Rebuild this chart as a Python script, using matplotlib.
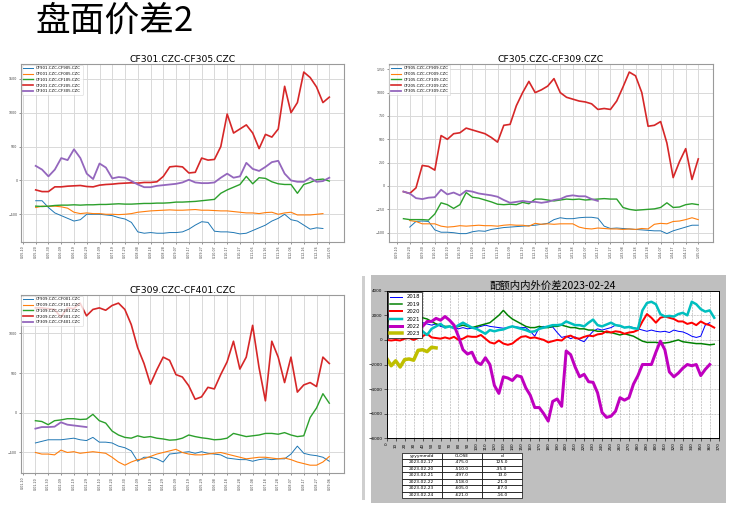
import numpy as np
import pandas as pd
import matplotlib
matplotlib.use("Agg")
import matplotlib.pyplot as plt
import matplotlib.dates as mdates
from matplotlib.ticker import FuncFormatter, MultipleLocator
from matplotlib.patches import Rectangle

nan = np.nan
CJK = ["Noto Sans CJK SC", "DejaVu Sans"]

# ---- panel 1: CF301-CF305 (5-day grid from 05-20) ----
c1_names = ["CF901.CZC-CF905.CZC", "CF001.CZC-CF005.CZC", "CF101.CZC-CF105.CZC",
            "CF201.CZC-CF205.CZC", "CF301.CZC-CF305.CZC"]
c1_blue = [-300, -300, -400, -480, -520, -560, -600, -580, -500, -500,
           -500, -510, -520, -550, -570, -620, -760, -780, -770, -780,
           -780, -770, -770, -760, -720, -660, -610, -620, -750, -760,
           -760, -770, -790, -780, -740, -700, -660, -600, -560, -500,
           -580, -600, -660, -720, -700, -710, nan]
c1_orange = [-400, -380, -385, -380, -390, -410, -470, -490, -480, -490,
             -490, -500, -500, -505, -500, -490, -470, -460, -450, -445,
             -440, -435, -440, -440, -435, -430, -440, -440, -445, -450,
             -450, -460, -470, -480, -480, -490, -475, -470, -500, -480,
             -470, -510, -510, -510, -500, -490, nan]
c1_green = [-380, -385, -380, -370, -365, -365, -360, -365, -360, -360,
            -355, -355, -350, -345, -350, -350, -345, -340, -340, -335,
            -335, -330, -320, -320, -315, -310, -300, -290, -280, -190,
            -140, -100, -60, 60, -50, 40, 30, -20, -50, -60,
            -60, -190, -60, -30, 10, 20, -10]
c1_red = [-140, -165, -165, -95, -95, -85, -80, -75, -90, -95,
          -70, -60, -55, -45, -40, -35, -40, -30, -30, -20,
          60, 200, 210, 200, 110, 120, 330, 300, 310, 500,
          980, 700, 760, 820, 700, 470, 680, 640, 760, 1390,
          1000, 1150, 1600, 1520, 1380, 1150, 1230]
c1_purple = [215, 160, 60, 160, 330, 300, 460, 330, 100, 20,
             250, 190, 30, 50, 40, -10, -60, -100, -100, -80,
             -70, -60, -50, -30, 10, -30, -40, -40, -30, 40,
             100, 40, 60, 260, 170, 140, 200, 270, 290, 100,
             0, -20, -20, 40, -20, -10, 40]

# ---- panel 2: CF305-CF309 (5-day grid from 09-15) ----
c2_names = ["CF905.CZC-CF909.CZC", "CF005.CZC-CF009.CZC", "CF105.CZC-CF109.CZC",
            "CF205.CZC-CF209.CZC", "CF305.CZC-CF309.CZC"]
c2_blue = [nan, -440, -380, -375, -380, -470, -495, -495, -500, -510,
           -510, -490, -480, -485, -465, -455, -445, -440, -435, -430,
           -425, -420, -410, -400, -360, -340, -350, -350, -340, -335,
           -335, -345, -430, -455, -450, -455, -460, -465, -470, -475,
           -480, -480, -510, -480, -460, -440, -420, -420]
c2_orange = [nan, -370, -380, -405, -405, -405, -430, -440, -435, -425,
             -430, -425, -420, -425, -425, -430, -420, -415, -420, -420,
             -430, -400, -410, -405, -410, -405, -405, -405, -440, -455,
             -460, -450, -455, -460, -460, -465, -460, -465, -455, -460,
             -410, -400, -405, -380, -375, -360, -340, -360]
c2_green = [-350, -360, -360, -360, -365, -300, -180, -200, -240, -200,
            -70, -120, -130, -150, -170, -195, -200, -195, -200, -175,
            -190, -140, -140, -150, -160, -150, -140, -145, -140, -150,
            -145, -140, -135, -140, -140, -230, -250, -260, -255, -250,
            -245, -230, -180, -230, -225, -200, -190, -200]
c2_red = [-60, -80, -20, 220, 210, 170, 540, 500, 560, 570,
          620, 600, 580, 560, 520, 470, 650, 660, 860, 1000,
          1120, 1000, 1030, 1070, 1150, 1000, 950, 930, 910, 900,
          880, 820, 830, 820, 910, 1060, 1220, 1180, 1000, 640,
          650, 690, 460, 90, 260, 400, 70, 290]
c2_purple = [-60, -80, -130, -140, -125, -120, -40, -90, -70, -100,
             -50, -60, -80, -90, -100, -115, -150, -180, -170, -160,
             -170, -170, -180, -170, -150, -140, -110, -100, -110, -110,
             -140, -160, nan, nan, nan, nan, nan, nan, nan, nan,
             nan, nan, nan, nan, nan, nan, nan, nan]

# ---- panel 3: CF309-CF401 (5-day grid from 01-20) ----
c3_names = ["CF909.CZC-CF001.CZC", "CF009.CZC-CF101.CZC", "CF109.CZC-CF201.CZC",
            "CF209.CZC-CF301.CZC", "CF309.CZC-CF401.CZC"]
c3_blue = [-380, -360, -340, -340, -340, -330, -320, -340, -350, -310,
           -370, -370, -380, -420, -440, -480, -610, -560, -560, -580,
           -620, -520, -510, -500, -490, -510, -490, -510, -520, -530,
           -570, -580, -590, -590, -610, -590, -580, -590, -580, -580,
           -520, -420, -510, -530, -540, -560, -610]
c3_orange = [-500, -520, -520, -530, -470, -500, -490, -510, -500, -490,
             -500, -510, -560, -620, -660, -620, -590, -580, -550, -520,
             -500, -480, -460, -500, -520, -530, -530, -520, -510, -500,
             -520, -540, -560, -580, -570, -560, -560, -570, -580, -570,
             -590, -620, -640, -660, -660, -620, -550]
c3_green = [-100, -110, -150, -100, -90, -75, -75, -85, -80, -20,
            -100, -130, -230, -280, -310, -320, -290, -310, -300, -320,
            -330, -345, -340, -320, -280, -300, -315, -325, -340, -335,
            -320, -260, -280, -300, -290, -280, -260, -260, -270, -250,
            -280, -300, -290, -60, 60, 240, 120]
c3_red = [1320, 1320, 1310, 1300, 1200, 1320, 1310, 1380, 1220, 1300,
          1320, 1290, 1350, 1380, 1300, 1110, 820, 620, 360, 540,
          700, 660, 480, 450, 340, 170, 200, 320, 300, 480,
          640, 900, 550, 700, 1100, 570, 150, 900, 700, 380,
          700, 260, 350, 380, 330, 700, 620]
c3_purple = [-200, -180, -180, -175, -120, -150, -160, -170, -180] + [nan] * 38

# ---- panel 4: quota spread by year (every 5th trading day) ----
c4_years = ["2018", "2019", "2020", "2021", "2022", "2023"]
c4_2018 = [1100, 1200, 1300, 1300, 1400, 1300, 1200, 1100, 1400, 1300,
           1200, 1300, 1100, 1000, 1100, 1000, 900, 1000, 900, 950,
           1000, 1100, 1200, 1100, 1050, 1000, 950, 1000, 1100, 1050,
           1000, 1000, 700, 300, 1000, 1100, 1000, 1050, 600, 200,
           300, 100, 250, 0, -150, 300, 700, 900, 800, 900,
           1000, 1200, 1100, 1000, 1100, 1000, 900, 800, 700, 800,
           700, 650, 700, 600, 800, 700, 650, 500, 300, 200,
           300, 1200, 1400, nan]
c4_2019 = [1300, 1900, 1800, 1700, 1700, 1800, 1900, 1800, 1800, 1700,
           1500, 1300, 1200, 1100, 1100, 1000, 1100, 1200, 1100, 1000,
           1100, 1200, 1300, 1400, 1700, 2000, 2400, 2000, 1700, 1500,
           1300, 1100, 1000, 1000, 1100, 1000, 1000, 1100, 1100, 1200,
           1100, 1000, 1000, 900, 900, 800, 800, 700, 700, 600,
           600, 500, 400, 500, 400, 300, 100, -100, -200, -200,
           -200, -250, -250, -200, -100, 0, -150, -200, -250, -300,
           -300, -350, -400, -350]
c4_2020 = [0, -50, 0, -50, 100, 150, 0, 150, 300, 500,
           200, 150, 100, 200, 100, 250, 0, 100, 300, 250,
           250, 400, 100, -200, -300, -50, -300, -400, -300, 0,
           250, 300, 150, 200, 100, 0, -200, -100, 0, -50,
           250, 350, 150, 100, 250, 350, 300, 450, 500, 700,
           600, 700, 650, 500, 600, 650, 800, 1500, 2100, 1800,
           1400, 1800, 1900, 1800, 1700, 1500, 1500, 1300, 1400, 1200,
           1500, 1300, 1200, 1000]
c4_2021 = [1100, 900, 700, 600, 500, 700, 500, 1100, 700, 400,
           900, 1100, 1300, 1000, 1100, 950, 1200, 1400, 1200, 1000,
           900, 700, 500, 800, 700, 800, 850, 1000, 1100, 1000,
           900, 800, 650, 700, 900, 1000, 1100, 1200, 1200, 1250,
           1500, 1350, 1200, 1200, 1100, 1400, 1650, 1200, 1100, 1250,
           1400, 1200, 1150, 1000, 1050, 950, 900, 2400, 3000, 3100,
           2900, 2100, 1900, 1950, 1900, 2100, 2200, 2000, 3100, 2900,
           2500, 2300, 2400, 1800]
c4_2022 = [2100, 1800, 1500, 1300, 1100, 1000, 900, 950, 1100, 1500,
           1500, 1750, 1600, 1900, 1600, 1200, 270, -800, -1150, -1000,
           -1800, -2000, -1450, -2000, -3700, -4350, -3000, -3100, -3300, -2900,
           -3000, -3900, -4500, -5500, -5500, -6000, -6600, -5000, -4800, -5400,
           -900, -1200, -2200, -3000, -2800, -3400, -3450, -4300, -5900, -6300,
           -6200, -5800, -4700, -4900, -4700, -3600, -2900, -2000, -2000, -2000,
           -1000, -100, -800, -2600, -3000, -2700, -2300, -2000, -2100, -2000,
           -2900, -2400, -2000, nan]
c4_2023 = [-1500, -2100, -1700, -2200, -1600, -1550, -1650, -850, -800, -950,
           -600, -650] + [nan] * 62

tbl_cols = ["yyyymmdd", "CLOSE", "d"]
tbl_dates = ["2023-02-17", "2023-02-20", "2023-02-21", "2023-02-22", "2023-02-23", "2023-02-24"]
tbl_close = [-475.0, -510.0, -497.0, -518.0, -605.0, -621.0]
tbl_d = [125.0, -35.0, 13.0, -21.0, -87.0, -16.0]

line_colors = ["tab:blue", "tab:orange", "tab:green", "tab:red", "tab:purple"]
line_widths = [0.7, 0.8, 1.0, 1.2, 1.3]


def spread_panel(ax, title, start, first_tick, base_year, names, series, ystep):
    x = pd.date_range(start, periods=len(series[0]), freq="5D")
    for vals, name, c, lw in zip(series, names, line_colors, line_widths):
        ax.plot(x, vals, color=c, lw=lw, label=name)
    ticks = pd.date_range(first_tick, periods=25, freq="10D")
    ax.set_xticks(mdates.date2num(ticks.to_pydatetime()))
    ax.xaxis.set_major_formatter(FuncFormatter(
        lambda v, p: "%d-%s" % (mdates.num2date(v).year - base_year,
                                mdates.num2date(v).strftime("%m-%d"))))
    ax.yaxis.set_major_locator(MultipleLocator(ystep))
    ax.tick_params(axis="x", labelrotation=90)
    ax.tick_params(labelsize=2.3, length=1.5, width=0.4, colors="#444444", pad=1)
    ax.grid(True, color="#d9d9d9", lw=0.7)
    for s in ax.spines.values():
        s.set_color("#9a9a9a")
        s.set_linewidth(0.8)
    ax.set_title(title, fontsize=6.7, pad=1.5)
    leg = ax.legend(loc="upper left", fontsize=2.8, borderaxespad=0.2,
                    handlelength=2.5, labelspacing=0.45, framealpha=0.8)
    leg.get_frame().set_linewidth(0.4)


W, H = 733, 509
fig = plt.figure(figsize=(W / 100, H / 100), dpi=100)

fig.text(35 / W, 1 - 21 / H, "盘面价差2", fontsize=25, va="center", ha="left", family=CJK)

# gray backdrop of the lower-right picture and the thin divider line
fig.add_artist(Rectangle((371 / W, 1 - 502.7 / H), 355 / W, 227.7 / H,
                         transform=fig.transFigure, facecolor="#bfbfbf",
                         edgecolor="none", zorder=-1))
fig.add_artist(Rectangle((362 / W, 1 - 500 / H), 3 / W, 224 / H,
                         transform=fig.transFigure, facecolor="#cfcfcf",
                         edgecolor="none", zorder=-1))

ax1 = fig.add_axes([21 / W, 1 - 242 / H, 323 / W, 178 / H])
spread_panel(ax1, "CF301.CZC-CF305.CZC", "2000-05-20", "2000-05-10", 2000, c1_names,
             [c1_blue, c1_orange, c1_green, c1_red, c1_purple], 500)

ax2 = fig.add_axes([388.7 / W, 1 - 241.7 / H, 324.3 / W, 177.7 / H])
spread_panel(ax2, "CF305.CZC-CF309.CZC", "2003-09-15", "2003-09-10", 2003, c2_names,
             [c2_blue, c2_orange, c2_green, c2_red, c2_purple], 250)

ax3 = fig.add_axes([20.7 / W, 1 - 473.3 / H, 323.3 / W, 178.3 / H])
spread_panel(ax3, "CF309.CZC-CF401.CZC", "2000-01-20", "2000-01-10", 2000, c3_names,
             [c3_blue, c3_orange, c3_green, c3_red, c3_purple], 500)

# ---- lower right ----
ax4 = fig.add_axes([386.7 / W, 1 - 438.3 / H, 332 / W, 147.6 / H])
ax4.set_facecolor("white")
xi = np.arange(0, 5 * len(c4_2018), 5)
year_colors = ["b", "g", "r", "c", "m", "y"]
for i, (yr, vals) in enumerate(zip(c4_years, [c4_2018, c4_2019, c4_2020, c4_2021, c4_2022, c4_2023])):
    ax4.plot(xi, vals, color=year_colors[i], lw=(1 + 0.5 * i) * 0.72, label=yr)
ax4.set_xlim(0, 370)
ax4.set_ylim(-8000, 4000)
ax4.xaxis.set_major_locator(MultipleLocator(10))
ax4.yaxis.set_major_locator(MultipleLocator(2000))
ax4.tick_params(axis="x", labelrotation=90)
ax4.tick_params(labelsize=3, length=2, width=0.4, pad=1)
ax4.grid(True, color="#aaaaaa", ls="--", lw=0.4)
for s in ax4.spines.values():
    s.set_linewidth(0.7)
ax4.set_title("配额内内外价差2023-02-24", fontsize=7.5, pad=1.5, family=CJK)
leg4 = ax4.legend(loc="upper left", fontsize=3.8, borderaxespad=0.3, handlelength=2.2,
                  labelspacing=0.45, fancybox=False, edgecolor="black", framealpha=1)
leg4.get_frame().set_linewidth(0.5)

tax = fig.add_axes([401.7 / W, 1 - 498 / H, 120.3 / W, 45.3 / H])
tax.axis("off")
rows = [[d, "%.1f" % c, "%.1f" % v] for d, c, v in zip(tbl_dates, tbl_close, tbl_d)]
tbl = tax.table(cellText=rows, colLabels=tbl_cols, cellLoc="center", bbox=[0, 0, 1, 1])
tbl.auto_set_font_size(False)
tbl.set_fontsize(3.2)
for cell in tbl.get_celld().values():
    cell.set_linewidth(0.5)
    cell.set_facecolor("white")

fig.savefig("out.png", dpi=100)
